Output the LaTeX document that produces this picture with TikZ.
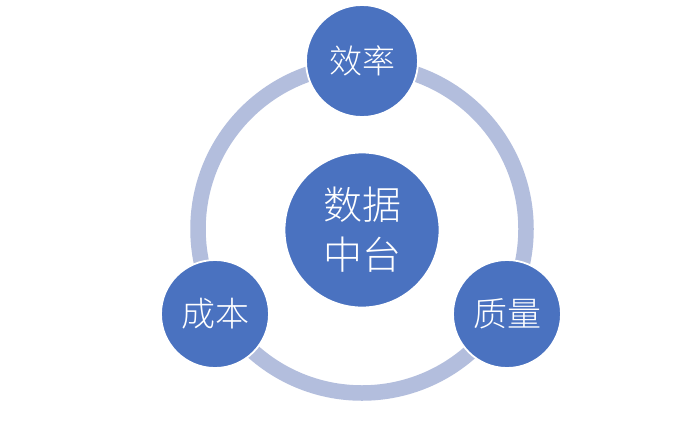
\documentclass[tikz,border=0pt]{standalone}
\usepackage{fontspec}
\newfontfamily\cjk{Noto Sans CJK SC Light}
\definecolor{ringc}{HTML}{B3BEDD}
\definecolor{ballc}{HTML}{4A72C0}
\tikzset{
  ball/.style={circle, fill=ballc, draw=white, line width=1.8pt, text=white, inner sep=0pt, align=center},
  ring/.style={draw=ringc, line width=15.5pt}
}
\begin{document}
\begin{tikzpicture}[x=1pt,y=-1pt]
\useasboundingbox (0,0) rectangle (700,426);
\fill[white] (0,0) rectangle (700,426);
\coordinate (c) at (362,229);
\draw[ring] (c) circle[radius=164];
\node[ball, minimum size=155pt, font=\cjk\fontsize{39}{50}\selectfont] (mid) at (362,230) {数据\\中台};
\node[ball, minimum size=112pt, font=\cjk\fontsize{33}{38}\selectfont] (top) at (362,61) {效率};
\node[ball, minimum size=108pt, font=\cjk\fontsize{34}{38}\selectfont] (left) at (215,314) {成本};
\node[ball, minimum size=108pt, font=\cjk\fontsize{34}{38}\selectfont] (right) at (507,314) {质量};
\end{tikzpicture}
\end{document}
